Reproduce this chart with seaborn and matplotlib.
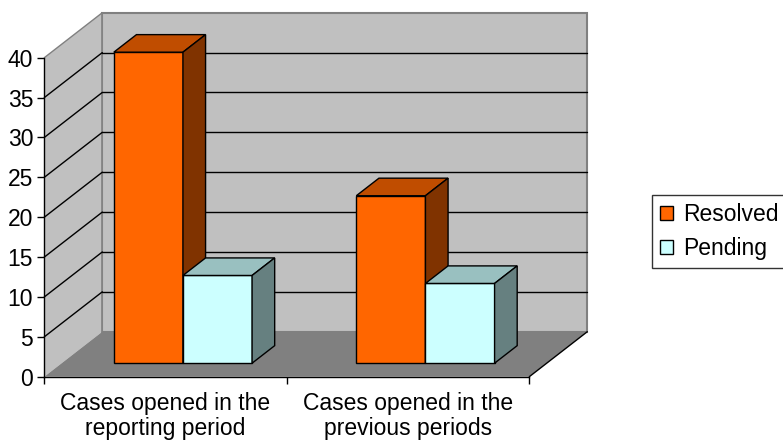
import pandas as pd
import matplotlib
matplotlib.use("Agg")
import matplotlib.pyplot as plt
from matplotlib.patches import Polygon, Rectangle
import seaborn as sns

# data
categories = ["Cases opened in the\nreporting period", "Cases opened in the\nprevious periods"]
series = ["Resolved", "Pending"]
resolved = [39, 21]
pending = [11, 10]
y_ticks = [0, 5, 10, 15, 20, 25, 30, 35, 40]

front_col = {"Resolved": "#ff6600", "Pending": "#ccffff"}
top_col = {"Resolved": "#c04d00", "Pending": "#99c0c0"}
side_col = {"Resolved": "#803300", "Pending": "#668080"}

df = pd.DataFrame({
    "category": categories * 2,
    "series": ["Resolved"] * len(resolved) + ["Pending"] * len(pending),
    "value": resolved + pending,
})

sns.set_style("white")
plt.rcParams["font.family"] = ["Liberation Sans", "DejaVu Sans"]
plt.rcParams["text.color"] = "black"
plt.rcParams["xtick.color"] = "black"
plt.rcParams["ytick.color"] = "black"
plt.rcParams["xtick.labelcolor"] = "black"
plt.rcParams["ytick.labelcolor"] = "black"
FS = 16.5

W, H = 783, 445
fig = plt.figure(figsize=(W / 100, H / 100), dpi=100)
ax_l, ax_r, ax_b, ax_t = 44.3, 529.3, 376.7, 57.7
ax = fig.add_axes([ax_l / W, 1 - ax_b / H, (ax_r - ax_l) / W, (ax_b - ax_t) / H])
ax.patch.set_visible(False)

x_lo, x_hi = -0.5, len(categories) - 0.5
y_lo, y_hi = y_ticks[0], y_ticks[-1]

# oblique depth (full floor depth) in data units
DX = 58 / (ax_r - ax_l) * (x_hi - x_lo)
DY = 45 / (ax_b - ax_t) * (y_hi - y_lo)
f0, f1 = 0.30, 0.69  # bar front / back depth fractions

sns.barplot(df, x="category", y="value", hue="series", hue_order=series,
            palette=front_col, saturation=1, width=0.57, errorbar=None,
            edgecolor="black", linewidth=1, legend=False, ax=ax)

# walls and floor
back = Polygon([(x_lo + DX, y_lo + DY), (x_hi + DX, y_lo + DY),
                (x_hi + DX, y_hi + DY), (x_lo + DX, y_hi + DY)],
               fc="#c0c0c0", ec="#808080", lw=1.5, clip_on=False, zorder=0.5)
left = Polygon([(x_lo, y_lo), (x_lo, y_hi), (x_lo + DX, y_hi + DY), (x_lo + DX, y_lo + DY)],
               fc="#c0c0c0", ec="none", clip_on=False, zorder=0.6)
floor = Polygon([(x_lo, y_lo), (x_hi, y_lo), (x_hi + DX, y_lo + DY), (x_lo + DX, y_lo + DY)],
                fc="#808080", ec="none", clip_on=False, zorder=0.7)
for p in (back, left, floor):
    ax.add_patch(p)
ax.plot([x_lo + DX, x_lo + DX], [y_lo + DY, y_hi + DY], color="#808080", lw=1.2,
        clip_on=False, zorder=0.8)
ax.plot([x_hi, x_hi + DX], [y_lo, y_lo + DY], color="black", lw=1, clip_on=False, zorder=0.9)

for v in y_ticks[1:]:
    c = "#808080" if v == y_hi else "black"
    ax.plot([x_lo, x_lo + DX], [v, v + DY], color=c, lw=1, clip_on=False, zorder=1.0)
    if v != y_hi:
        ax.plot([x_lo + DX, x_hi + DX], [v + DY, v + DY], color=c, lw=1, clip_on=False, zorder=1.0)

# 3d boxes from the seaborn bars
ddx, ddy = (f1 - f0) * DX, (f1 - f0) * DY
for j, s in enumerate(series):
    for k, patch in enumerate(ax.containers[j]):
        x0 = patch.get_x() + f0 * DX
        y0 = f0 * DY
        w, h = patch.get_width(), patch.get_height()
        z = 3 + k * 2 + j * 0.5
        patch.set_xy((x0, y0))
        patch.set_clip_on(False)
        patch.set_zorder(z)
        top = Polygon([(x0, y0 + h), (x0 + w, y0 + h), (x0 + w + ddx, y0 + h + ddy), (x0 + ddx, y0 + h + ddy)],
                      fc=top_col[s], ec="black", lw=1, clip_on=False, zorder=z)
        side = Polygon([(x0 + w, y0), (x0 + w, y0 + h), (x0 + w + ddx, y0 + h + ddy), (x0 + w + ddx, y0 + ddy)],
                       fc=side_col[s], ec="black", lw=1, clip_on=False, zorder=z)
        ax.add_patch(top)
        ax.add_patch(side)

ax.set_xlim(x_lo, x_hi)
ax.set_ylim(y_lo, y_hi)
ax.set_xlabel("")
ax.set_ylabel("")
for sp in ("top", "right"):
    ax.spines[sp].set_visible(False)
for sp in ("left", "bottom"):
    ax.spines[sp].set_color("black")
    ax.spines[sp].set_linewidth(1)
    ax.spines[sp].set_zorder(2)

ax.set_yticks(y_ticks, [str(v) for v in y_ticks])
ax.set_xticks([x_lo + i for i in range(len(categories) + 1)], [""] * (len(categories) + 1))
ax.set_xticks(range(len(categories)), categories, minor=True)
ax.tick_params(axis="y", direction="out", length=5, width=1, color="black",
               pad=3, labelsize=FS, left=True, labelcolor="black")
ax.tick_params(axis="x", which="major", direction="out", length=5, width=1, color="black", bottom=True)
ax.tick_params(axis="x", which="minor", length=0, pad=11, labelsize=FS, labelcolor="black")
for lab in ax.get_xticklabels(minor=True):
    lab.set_linespacing(1.1)

handles = [Rectangle((0, 0), 1, 1, fc=front_col[s], ec="black", lw=1) for s in series]
leg = fig.legend(handles, series, loc="upper left", bbox_to_anchor=(652 / W, 1 - 195 / H),
                 frameon=True, fancybox=False, edgecolor="black", fontsize=FS,
                 handlelength=0.57, handleheight=0.57, handletextpad=0.45,
                 borderpad=0.35, labelspacing=0.5, borderaxespad=0)
leg.get_frame().set_linewidth(1)
for t in leg.get_texts():
    t.set_color("black")

fig.savefig("out.png", dpi=100, facecolor="white")
